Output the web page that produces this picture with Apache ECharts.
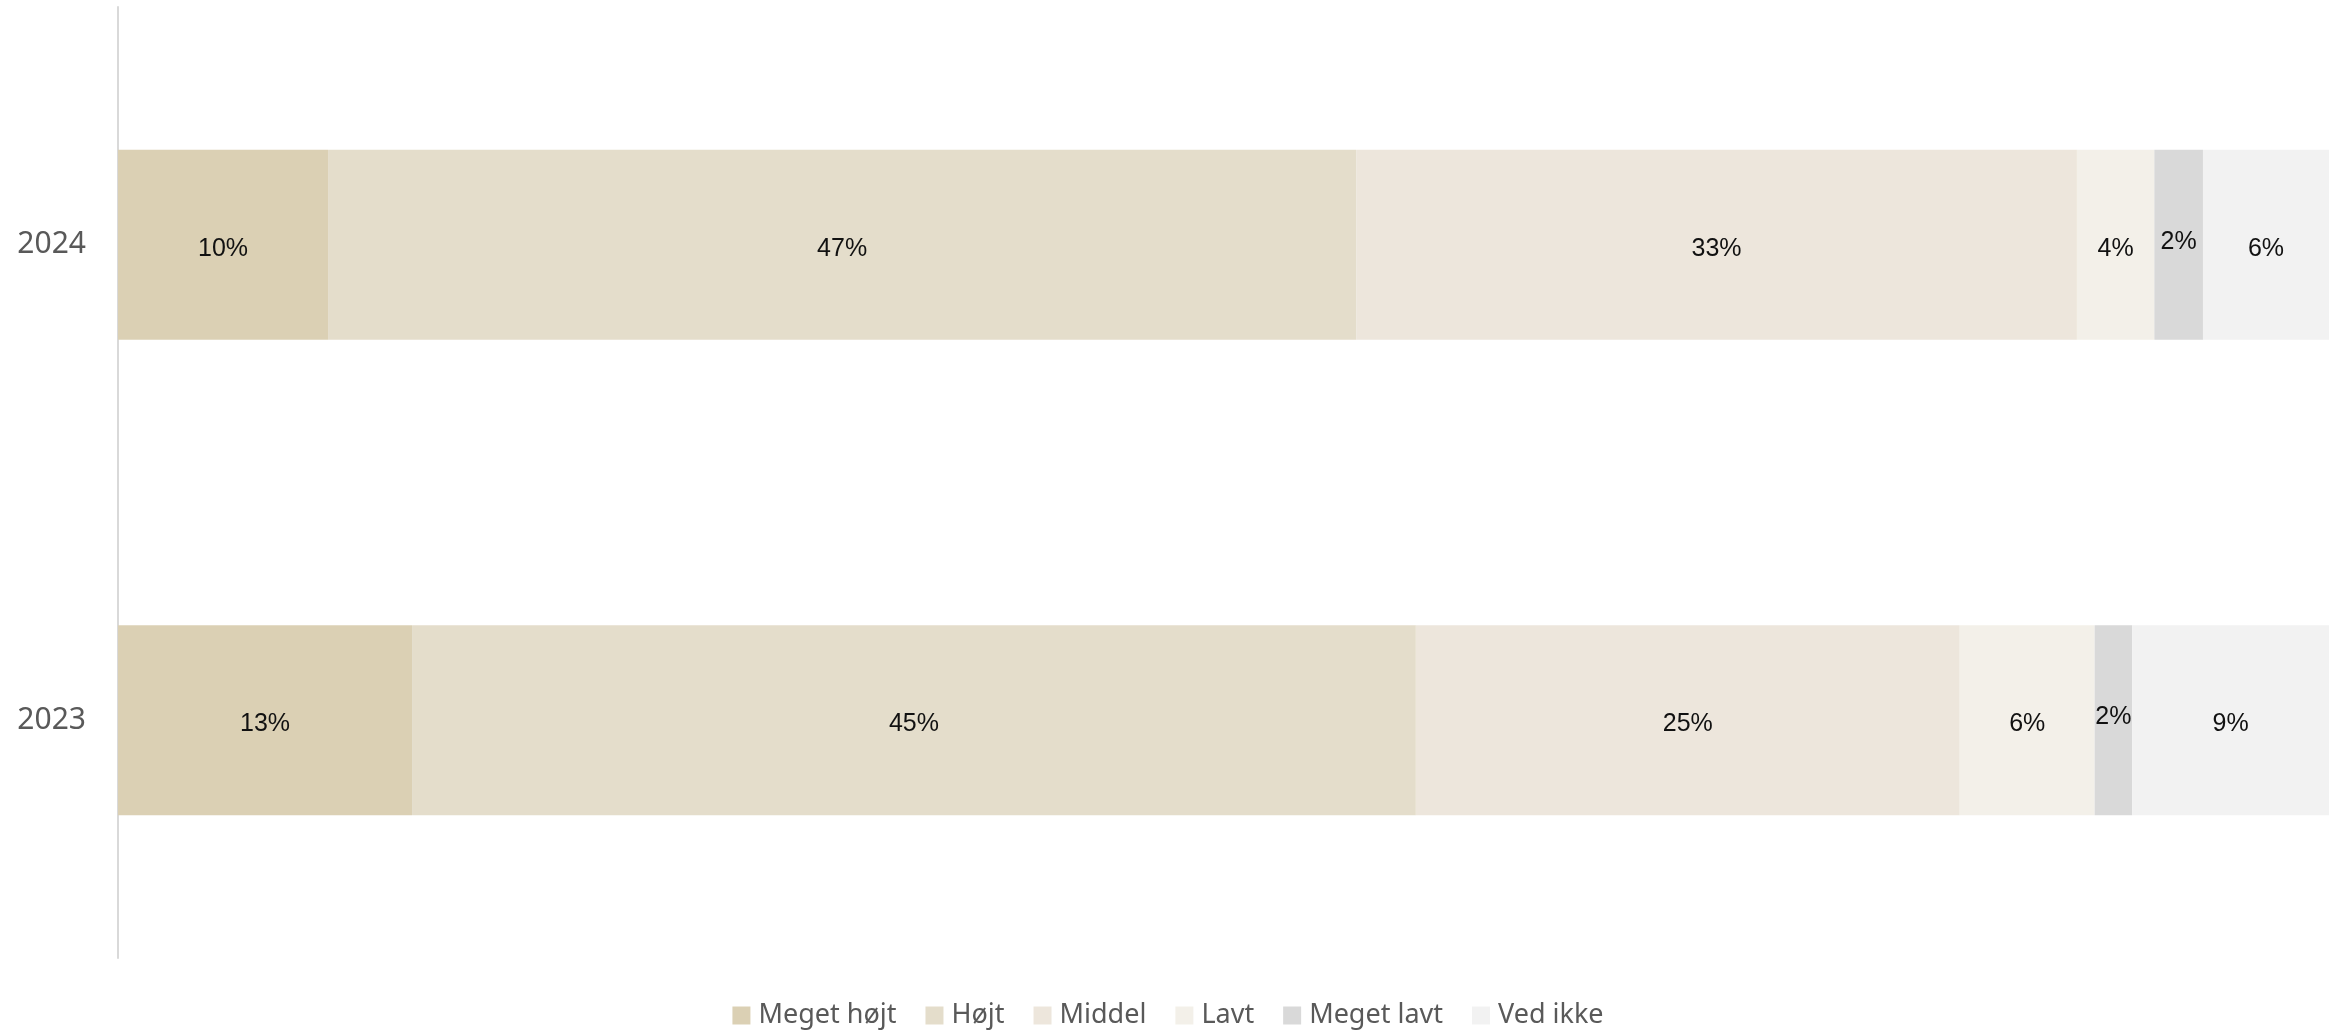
<!DOCTYPE html>
<html lang="da">
<head>
    <meta charset="UTF-8">
    <title>Meget højt / Ved ikke</title>
    <script src="https://cdn.jsdelivr.net/npm/echarts@6/dist/echarts.min.js"></script>
    <style>
        html, body { margin: 0; padding: 0; background: #fff; }
        #chart { width: 2336px; height: 1031px; }
    </style>
</head>
<body>
    <div id="chart"></div>
    <script>
        // år (øverst -> nederst)
        const years = ['2024', '2023'];
        const seriesNames = ['Meget højt', 'Højt', 'Middel', 'Lavt', 'Meget lavt', 'Ved ikke'];

        // andele i procent, [2024, 2023]
        const megetHojt = [9.5, 13.3];
        const hojt = [46.5, 45.4];
        const middel = [32.6, 24.6];
        const lavt = [3.5, 6.1];
        const megetLavt = [2.2, 1.7];
        const vedIkke = [5.7, 8.9];

        const colors = ['#dbd0b4', '#e4ddcb', '#ede6dc', '#f3f0e9', '#d9d9d9', '#f2f2f2'];
        const values = [megetHojt, hojt, middel, lavt, megetLavt, vedIkke];

        let chart = echarts.init(document.getElementById('chart'));

        let series = seriesNames.map((name, i) => ({
            name: name,
            type: 'bar',
            stack: 'total',
            barWidth: '40%',
            itemStyle: { color: colors[i] },
            label: {
                show: true,
                position: 'inside',
                // smal bjælke: teksten sidder lidt højere
                offset: name === 'Meget lavt' ? [0, -3] : [0, 4],
                fontFamily: 'Liberation Sans',
                fontSize: 25,
                color: '#111',
                formatter: p => Math.round(p.value) + '%'
            },
            emphasis: { disabled: true },
            data: values[i]
        }));

        let option = {
            animation: false,
            color: colors,
            grid: { left: 118, right: 7, top: 7, bottom: 73, containLabel: false },
            legend: {
                data: seriesNames,
                left: 'center',
                top: 997,
                icon: 'rect',
                itemWidth: 18,
                itemHeight: 18,
                itemGap: 29,
                textStyle: { fontFamily: 'Noto Sans', fontSize: 27, color: '#595959', padding: [0, 0, 0, 3] }
            },
            xAxis: {
                type: 'value',
                min: 0,
                max: 100,
                show: false
            },
            yAxis: {
                type: 'category',
                data: years,
                inverse: true,
                axisLine: { show: true, lineStyle: { color: '#d9d9d9', width: 2 } },
                axisTick: { show: false },
                axisLabel: { fontFamily: 'Noto Sans', fontSize: 30, color: '#595959', margin: 32, padding: [4, 0, 0, 0] }
            },
            series: series
        };
        chart.setOption(option);
    </script>
</body>
</html>
